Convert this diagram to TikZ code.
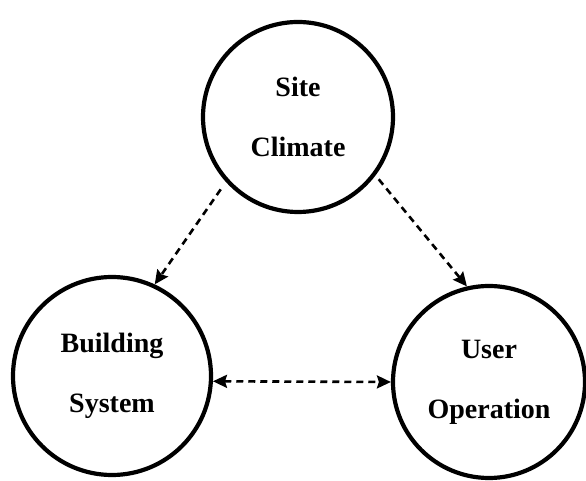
\documentclass[tikz,border=0pt]{standalone}
\usepackage{fontspec}
\setmainfont{Liberation Serif}
\usetikzlibrary{arrows.meta}
\begin{document}
\begin{tikzpicture}[x=1pt,y=1pt,
  factor/.style={circle,draw,line width=4.2pt,inner sep=0pt,align=center,
    font=\bfseries\fontsize{28}{60}\selectfont},
  link/.style={line width=2.6pt,dash pattern=on 7pt off 5pt,
    -{Stealth[length=14pt,width=13pt,inset=2pt]}},
  biLink/.style={link,{Stealth[length=14pt,width=13pt,inset=2pt]}-{Stealth[length=14pt,width=13pt,inset=2pt]}}]
  \useasboundingbox (0,0) rectangle (586,481);
  % three factors
  \node[factor,minimum size=190pt] (site) at (298,364) {Site\\Climate};
  \node[factor,minimum size=198pt] (bldg) at (112,105) {Building\\System};
  \node[factor,minimum size=192pt] (user) at (489,99) {User\\Operation};
  % influences
  \draw[link,shorten <=9pt] (site.222) -- (bldg.65);
  \draw[link,shorten <=5pt] (site.-37) -- (user.103);
  \draw[biLink] (bldg.-3) -- (user.west);
\end{tikzpicture}
\end{document}
